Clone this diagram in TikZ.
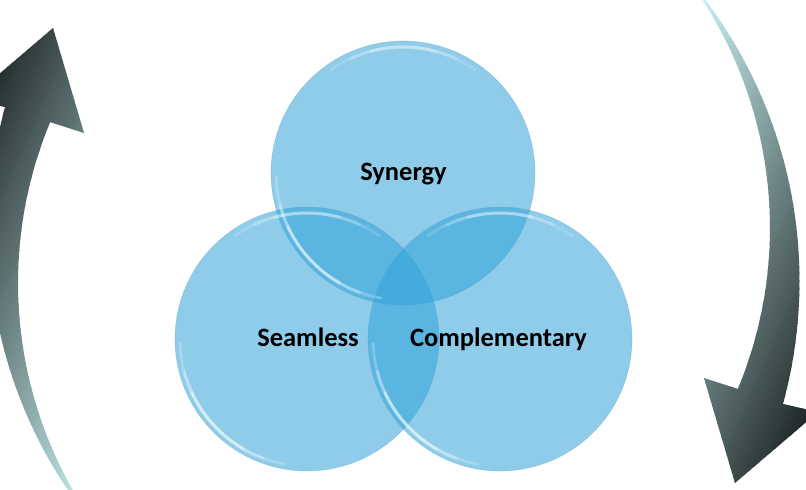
\documentclass[tikz,border=0pt]{standalone}
\usepackage{fontspec}
\setmainfont{Carlito}
\definecolor{vfill}{RGB}{50,163,218}
\definecolor{vedge}{RGB}{80,155,195}
\definecolor{adark}{RGB}{22,28,28}
\definecolor{alight}{RGB}{200,240,240}
\tikzset{
  venn/.style={circle, minimum size=264pt, inner sep=0pt, fill=vfill, fill opacity=0.55, draw=vedge, draw opacity=0.3, line width=0.6pt},
  rim/.style={white, line cap=round, line width=3pt},
  lbl/.style={font=\bfseries\fontsize{26.5}{30}\selectfont, text=black, anchor=base, inner sep=0pt}
}
% arrow outline: #1,#2 origin, #3 sign (1 or (-1)) for point reflection
\newcommand{\arrowpath}[3]{%
  plot[domain=143:195.3, samples=60] ({#1+#3*(454.5+466*cos(\x))}, {#2+#3*(230+466*sin(\x))})
  -- ({#1+#3*(-30)}, {#2+#3*99})
  -- ({#1+#3*53}, {#2+#3*28})
  -- ({#1+#3*84}, {#2+#3*133})
  -- ({#1+#3*50}, {#2+#3*122})
  -- plot[domain=202.59:147, samples=60] ({#1+#3*(437+419*cos(\x))}, {#2+#3*(283+419*sin(\x))})
  -- cycle}
\newcommand{\arrowstrips}[3]{%
  \foreach \i in {0,...,95}{%
    \pgfmathsetmacro{\stA}{\i*3}%
    \pgfmathsetmacro{\stB}{\i*3+3.8}%
    \pgfmathtruncatemacro{\pcv}{min(100,\i*100/93)}%
    \pgfmathsetmacro{\qax}{0.917*\stA+39.9}\pgfmathsetmacro{\qay}{0.399*\stA-91.7}%
    \pgfmathsetmacro{\qbx}{0.917*\stA-239.4}\pgfmathsetmacro{\qby}{0.399*\stA+550.2}%
    \pgfmathsetmacro{\qcx}{0.917*\stB-239.4}\pgfmathsetmacro{\qcy}{0.399*\stB+550.2}%
    \pgfmathsetmacro{\qdx}{0.917*\stB+39.9}\pgfmathsetmacro{\qdy}{0.399*\stB-91.7}%
    \fill[alight!\pcv!adark] ({#1+#3*\qax},{#2+#3*\qay}) -- ({#1+#3*\qbx},{#2+#3*\qby})
      -- ({#1+#3*\qcx},{#2+#3*\qcy}) -- ({#1+#3*\qdx},{#2+#3*\qdy}) -- cycle;
  }}
\begin{document}
\begin{tikzpicture}[x=1pt, y=-1pt]
\useasboundingbox (0,0) rectangle (806,490);
\fill[white] (0,0) rectangle (806,490);
% curved arrows
\begin{scope}
  \clip \arrowpath{0}{0}{1};
  \arrowstrips{0}{0}{1}
\end{scope}
\begin{scope}
  \clip \arrowpath{788}{511}{(-1)};
  \arrowstrips{788}{511}{(-1)}
\end{scope}
% circles
\node[venn] (syn) at (403,173) {};
\node[venn] (sea) at (307,339) {};
\node[venn] (com) at (500,339) {};
% glassy highlights
\foreach \c in {syn,sea,com}{
  \begin{scope}[shift={(\c.center)}]
    \foreach \a/\b/\o in {100/178/0.22, 110/165/0.28, 120/155/0.35}{
      \draw[rim, opacity=\o] plot[domain=\a:\b, samples=30] ({127*cos(\x)},{127*sin(\x)});
    }
    \foreach \a/\b/\o in {235/305/0.15, 245/295/0.2, 255/285/0.25}{
      \draw[rim, opacity=\o] plot[domain=\a:\b, samples=30] ({126*cos(\x)},{126*sin(\x)});
    }
  \end{scope}
}
% labels
\node[lbl] (tsyn) at (403.5,180) {Synergy};
\node[lbl] (tsea) at (308,346) {Seamless};
\node[lbl] (tcom) at (498.5,346) {Complementary};
\end{tikzpicture}
\end{document}
